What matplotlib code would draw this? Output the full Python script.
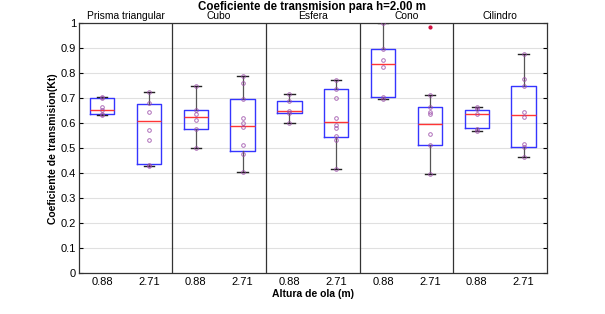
import matplotlib.pyplot as plt
import numpy as np

plt.rcParams['font.family'] = ['Liberation Sans', 'DejaVu Sans']

# formas ensayadas y alturas de ola
formas = ['Prisma triangular', 'Cubo', 'Esfera', 'Cono', 'Cilindro']
alturas = ['0.88', '2.71']

# estadisticos: (bigote inf, Q1, mediana, Q3, bigote sup)
bigote_inf = [0.632, 0.428, 0.502, 0.404, 0.603, 0.419, 0.696, 0.399, 0.571, 0.464]
q1 =         [0.636, 0.436, 0.579, 0.490, 0.640, 0.546, 0.705, 0.512, 0.580, 0.504]
mediana =    [0.653, 0.608, 0.624, 0.591, 0.648, 0.604, 0.839, 0.598, 0.636, 0.635]
q3 =         [0.700, 0.676, 0.655, 0.697, 0.689, 0.736, 0.896, 0.667, 0.653, 0.751]
bigote_sup = [0.704, 0.724, 0.751, 0.789, 0.717, 0.773, 0.999, 0.713, 0.665, 0.877]
atipicos = [[], [], [], [], [], [], [], [0.985], [], []]

# medidas individuales (circulos)
medidas = [
    [0.632, 0.636, 0.653, 0.665, 0.700, 0.704],
    [0.428, 0.434, 0.534, 0.574, 0.645, 0.680, 0.724],
    [0.502, 0.579, 0.613, 0.636, 0.655, 0.751],
    [0.404, 0.476, 0.514, 0.586, 0.600, 0.620, 0.697, 0.760, 0.789],
    [0.603, 0.640, 0.650, 0.690, 0.717],
    [0.419, 0.535, 0.550, 0.583, 0.592, 0.620, 0.703, 0.737, 0.773],
    [0.696, 0.705, 0.825, 0.853, 0.896, 0.999],
    [0.399, 0.512, 0.556, 0.639, 0.645, 0.667, 0.713],
    [0.571, 0.578, 0.636, 0.659, 0.665],
    [0.464, 0.505, 0.516, 0.627, 0.644, 0.751, 0.779, 0.877],
]

fig = plt.figure(figsize=(6.05, 3.14), dpi=100)
ax = fig.add_axes([0.130, 0.129, 0.774, 0.797])

n = len(formas) * len(alturas)
pos = np.arange(n) + 0.5

stats = []
for i in range(n):
    stats.append(dict(whislo=bigote_inf[i], q1=q1[i], med=mediana[i],
                      q3=q3[i], whishi=bigote_sup[i], fliers=atipicos[i]))

ax.bxp(stats, positions=pos, widths=0.52, capwidths=0.22, showfliers=True,
       boxprops=dict(color='#3535ff', linewidth=1.0),
       medianprops=dict(color='#ff3535', linewidth=1.0),
       whiskerprops=dict(color='#555555', linewidth=0.9),
       capprops=dict(color='#222222', linewidth=1.0),
       flierprops=dict(marker='o', markersize=2.0, markerfacecolor='#d01040',
                       markeredgecolor='#d01040'))

for i in range(n):
    ax.plot(np.full(len(medidas[i]), pos[i]), medidas[i], 'o', ms=2.6,
            mfc='none', mec='#9a4aa8', mew=0.7, alpha=0.8, zorder=4)

# separadores entre formas
for k in range(1, len(formas)):
    ax.axvline(2 * k, color='#333333', linewidth=0.9)

for k, f in enumerate(formas):
    ax.text(2 * k + 1, 1.016, f, ha='center', va='baseline', fontsize=7.4)

ax.set_xlim(0, n)
ax.set_ylim(0, 1)
ax.set_xticks(pos)
ax.set_xticklabels(alturas * len(formas), fontsize=8)
ax.set_yticks(np.arange(0, 1.01, 0.1))
ax.set_yticklabels(['0'] + [f'{v:.1f}' for v in np.arange(0.1, 0.95, 0.1)] + ['1'],
                   fontsize=8)
ax.tick_params(axis='x', length=0, pad=2.5)
ax.tick_params(axis='y', direction='in', length=3, right=True, pad=2)
ax.grid(axis='y', color='#e0e0e0', linewidth=0.8)
ax.set_axisbelow(True)
for s in ax.spines.values():
    s.set_color('#333333')
    s.set_linewidth(0.9)

ax.set_xlabel('Altura de ola (m)', fontsize=7.5, fontweight='bold', labelpad=1.5)
ax.set_ylabel('Coeficiente de transmision(Kt)', fontsize=7.5, fontweight='bold',
              labelpad=2)
fig.text(0.5165, 0.998, 'Coeficiente de transmision para h=2.00 m', ha='center',
         va='top', fontsize=8.3, fontweight='bold')

fig.savefig('out.png', dpi=100)
